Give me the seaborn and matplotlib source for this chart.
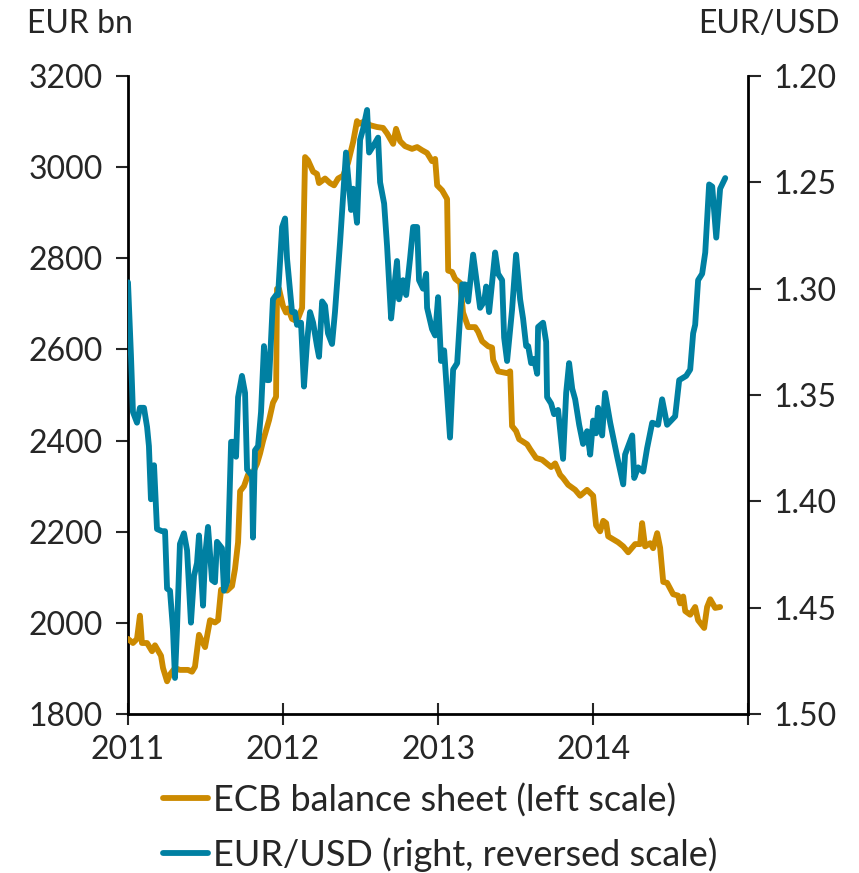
import numpy as np
import pandas as pd
import matplotlib
matplotlib.use("Agg")
import matplotlib.pyplot as plt
import seaborn as sns

# ECB balance sheet, EUR bn (decimal year, value)
ecb_year = [
    2011.000, 2011.032, 2011.058, 2011.077, 2011.090, 2011.123, 2011.155, 2011.174,
    2011.213, 2011.226, 2011.252, 2011.271, 2011.303, 2011.335, 2011.387, 2011.413,
    2011.432, 2011.458, 2011.477, 2011.497, 2011.529, 2011.561, 2011.581, 2011.600,
    2011.639, 2011.671, 2011.690, 2011.710, 2011.723, 2011.748, 2011.774, 2011.806,
    2011.832, 2011.852, 2011.871, 2011.910, 2011.935, 2011.955, 2011.961, 2011.974,
    2012.000, 2012.019, 2012.032, 2012.058, 2012.090, 2012.123, 2012.142, 2012.161,
    2012.194, 2012.219, 2012.232, 2012.271, 2012.303, 2012.329, 2012.355, 2012.387,
    2012.419, 2012.452, 2012.477, 2012.490, 2012.529, 2012.561, 2012.606, 2012.645,
    2012.671, 2012.710, 2012.729, 2012.755, 2012.787, 2012.832, 2012.865, 2012.897,
    2012.929, 2012.961, 2012.981, 2012.994, 2013.026, 2013.058, 2013.065, 2013.090,
    2013.110, 2013.142, 2013.161, 2013.194, 2013.239, 2013.258, 2013.284, 2013.323,
    2013.348, 2013.355, 2013.387, 2013.445, 2013.465, 2013.477, 2013.503, 2013.523,
    2013.574, 2013.594, 2013.632, 2013.671, 2013.703, 2013.729, 2013.755, 2013.787,
    2013.806, 2013.839, 2013.884, 2013.916, 2013.961, 2014.000, 2014.019, 2014.045,
    2014.065, 2014.084, 2014.097, 2014.161, 2014.194, 2014.226, 2014.271, 2014.303,
    2014.316, 2014.335, 2014.368, 2014.387, 2014.413, 2014.432, 2014.452, 2014.477,
    2014.516, 2014.548, 2014.561, 2014.581, 2014.594, 2014.626, 2014.658, 2014.677,
    2014.716, 2014.735, 2014.755, 2014.787, 2014.819,
]
ecb_value = [
    1965, 1956, 1965, 2016, 1956, 1956, 1938, 1951,
    1928, 1901, 1872, 1887, 1901, 1897, 1897, 1893,
    1904, 1974, 1960, 1947, 2006, 2001, 2006, 2073,
    2071, 2081, 2118, 2177, 2289, 2300, 2325, 2330,
    2349, 2372, 2399, 2445, 2483, 2496, 2733, 2733,
    2695, 2681, 2690, 2667, 2662, 2691, 3022, 3015,
    2990, 2985, 2965, 2975, 2965, 2960, 2975, 2981,
    3009, 3055, 3101, 3095, 3101, 3092, 3088, 3086,
    3074, 3051, 3084, 3057, 3046, 3040, 3044, 3037,
    3031, 3013, 3018, 2960, 2949, 2930, 2773, 2770,
    2755, 2746, 2681, 2649, 2649, 2639, 2618, 2607,
    2604, 2577, 2552, 2548, 2552, 2432, 2421, 2403,
    2392, 2381, 2362, 2358, 2349, 2342, 2350, 2325,
    2318, 2303, 2292, 2279, 2292, 2279, 2214, 2201,
    2224, 2219, 2190, 2177, 2168, 2155, 2173, 2173,
    2219, 2168, 2175, 2164, 2197, 2165, 2090, 2088,
    2063, 2060, 2043, 2058, 2026, 2018, 2035, 2006,
    1989, 2035, 2052, 2033, 2035,
]

# EUR/USD exchange rate (decimal year, value)
fx_year = [
    2011.000, 2011.019, 2011.032, 2011.058, 2011.077, 2011.103, 2011.123, 2011.135,
    2011.148, 2011.168, 2011.187, 2011.219, 2011.239, 2011.252, 2011.271, 2011.290,
    2011.303, 2011.316, 2011.335, 2011.361, 2011.381, 2011.406, 2011.426, 2011.445,
    2011.458, 2011.484, 2011.497, 2011.516, 2011.542, 2011.561, 2011.574, 2011.606,
    2011.619, 2011.639, 2011.665, 2011.684, 2011.697, 2011.710, 2011.735, 2011.755,
    2011.768, 2011.800, 2011.806, 2011.819, 2011.839, 2011.858, 2011.877, 2011.897,
    2011.910, 2011.935, 2011.955, 2011.968, 2011.994, 2012.013, 2012.026, 2012.058,
    2012.077, 2012.090, 2012.116, 2012.135, 2012.155, 2012.174, 2012.194, 2012.219,
    2012.232, 2012.252, 2012.271, 2012.290, 2012.316, 2012.335, 2012.368, 2012.406,
    2012.439, 2012.452, 2012.477, 2012.497, 2012.516, 2012.542, 2012.555, 2012.581,
    2012.613, 2012.626, 2012.652, 2012.671, 2012.697, 2012.716, 2012.735, 2012.748,
    2012.774, 2012.794, 2012.819, 2012.839, 2012.865, 2012.877, 2012.903, 2012.923,
    2012.929, 2012.961, 2012.981, 2013.000, 2013.019, 2013.039, 2013.077, 2013.097,
    2013.123, 2013.155, 2013.174, 2013.194, 2013.226, 2013.271, 2013.297, 2013.310,
    2013.329, 2013.368, 2013.387, 2013.413, 2013.426, 2013.445, 2013.477, 2013.503,
    2013.529, 2013.548, 2013.568, 2013.581, 2013.600, 2013.619, 2013.639, 2013.645,
    2013.677, 2013.697, 2013.703, 2013.729, 2013.748, 2013.774, 2013.806, 2013.826,
    2013.845, 2013.865, 2013.884, 2013.910, 2013.935, 2013.961, 2013.981, 2014.000,
    2014.019, 2014.032, 2014.058, 2014.077, 2014.110, 2014.155, 2014.194, 2014.206,
    2014.252, 2014.265, 2014.290, 2014.323, 2014.348, 2014.381, 2014.419, 2014.445,
    2014.477, 2014.529, 2014.555, 2014.600, 2014.626, 2014.645, 2014.658, 2014.677,
    2014.703, 2014.723, 2014.748, 2014.768, 2014.794, 2014.819, 2014.852,
]
fx_value = [
    1.297, 1.331, 1.358, 1.363, 1.356, 1.356, 1.365, 1.374,
    1.399, 1.383, 1.413, 1.414, 1.414, 1.441, 1.442, 1.460,
    1.483, 1.460, 1.420, 1.415, 1.423, 1.457, 1.435, 1.429,
    1.416, 1.449, 1.426, 1.412, 1.437, 1.438, 1.419, 1.422,
    1.442, 1.438, 1.372, 1.372, 1.379, 1.351, 1.341, 1.349,
    1.385, 1.388, 1.417, 1.376, 1.374, 1.358, 1.327, 1.343,
    1.343, 1.305, 1.303, 1.303, 1.271, 1.267, 1.286, 1.311,
    1.311, 1.317, 1.316, 1.346, 1.325, 1.311, 1.316, 1.327,
    1.332, 1.306, 1.308, 1.321, 1.326, 1.311, 1.278, 1.236,
    1.263, 1.253, 1.269, 1.230, 1.225, 1.216, 1.236, 1.233,
    1.229, 1.250, 1.260, 1.280, 1.314, 1.300, 1.287, 1.305,
    1.296, 1.303, 1.286, 1.271, 1.271, 1.296, 1.300, 1.293,
    1.309, 1.319, 1.322, 1.304, 1.334, 1.329, 1.370, 1.338,
    1.335, 1.298, 1.298, 1.306, 1.284, 1.309, 1.306, 1.299,
    1.311, 1.283, 1.293, 1.296, 1.323, 1.334, 1.310, 1.284,
    1.305, 1.314, 1.327, 1.327, 1.335, 1.333, 1.340, 1.318,
    1.316, 1.325, 1.351, 1.354, 1.359, 1.357, 1.380, 1.349,
    1.335, 1.347, 1.352, 1.364, 1.373, 1.367, 1.378, 1.362,
    1.368, 1.356, 1.369, 1.349, 1.363, 1.379, 1.392, 1.378,
    1.369, 1.389, 1.384, 1.386, 1.375, 1.363, 1.364, 1.352,
    1.364, 1.360, 1.343, 1.341, 1.338, 1.321, 1.317, 1.296,
    1.293, 1.283, 1.251, 1.252, 1.276, 1.253, 1.248,
]

year_ticks = [2011, 2012, 2013, 2014, 2015]
year_labels = ["2011", "2012", "2013", "2014", ""]
left_ticks = [1800, 2000, 2200, 2400, 2600, 2800, 3000, 3200]
right_ticks = [1.20, 1.25, 1.30, 1.35, 1.40, 1.45, 1.50]

orange = "#cc8a00"
blue = "#0080a2"

sns.set_style("ticks")
plt.rcParams["font.family"] = ["Lato", "DejaVu Sans"]

fig = plt.figure(figsize=(8.59, 8.73), dpi=100)
ax = fig.add_axes([0.149, 0.182, 0.722, 0.731])
ax2 = ax.twinx()

ecb = pd.DataFrame({"year": ecb_year, "value": ecb_value})
fx = pd.DataFrame({"year": fx_year, "value": fx_value})

sns.lineplot(data=ecb, x="year", y="value", ax=ax, color=orange, lw=4.2,
             label="ECB balance sheet (left scale)", legend=False, zorder=3)
sns.lineplot(data=fx, x="year", y="value", ax=ax2, color=blue, lw=4.2,
             label="EUR/USD (right, reversed scale)", legend=False, zorder=3)

ax.set_xlim(2011, 2015)
ax.set_ylim(1800, 3200)
ax2.set_ylim(1.50, 1.20)

ax.set_xticks(year_ticks)
ax.set_xticklabels(year_labels)
ax.set_yticks(left_ticks)
ax.set_yticklabels([str(t) for t in left_ticks])
ax2.set_yticks(right_ticks)
ax2.set_yticklabels([f"{t:.2f}" for t in right_ticks])

for a in (ax, ax2):
    a.set_xlabel("")
    a.set_ylabel("")
    a.spines["top"].set_visible(False)
    for s in a.spines.values():
        s.set_linewidth(2.0)
        s.set_color("black")

ax.spines["right"].set_visible(False)
ax2.spines["left"].set_visible(False)
ax2.spines["bottom"].set_visible(False)

ax.tick_params(axis="y", direction="out", length=9, width=1.5, labelsize=23, pad=9)
ax.tick_params(axis="x", direction="inout", length=16, width=1.5, labelsize=23, pad=7)
ax2.tick_params(axis="y", direction="out", length=9, width=1.5, labelsize=23, pad=9)

fig.text(0.031, 0.972, "EUR bn", fontsize=23, ha="left", va="center")
fig.text(0.978, 0.972, "EUR/USD", fontsize=23, ha="right", va="center")

h1, l1 = ax.get_legend_handles_labels()
h2, l2 = ax2.get_legend_handles_labels()
fig.legend(h1 + h2, l1 + l2, loc="upper left", bbox_to_anchor=(0.19, 0.103),
           frameon=False, fontsize=26, handlelength=1.25, handletextpad=0.12,
           labelspacing=0.55, borderaxespad=0, borderpad=0)

fig.savefig("out.png", dpi=100)
